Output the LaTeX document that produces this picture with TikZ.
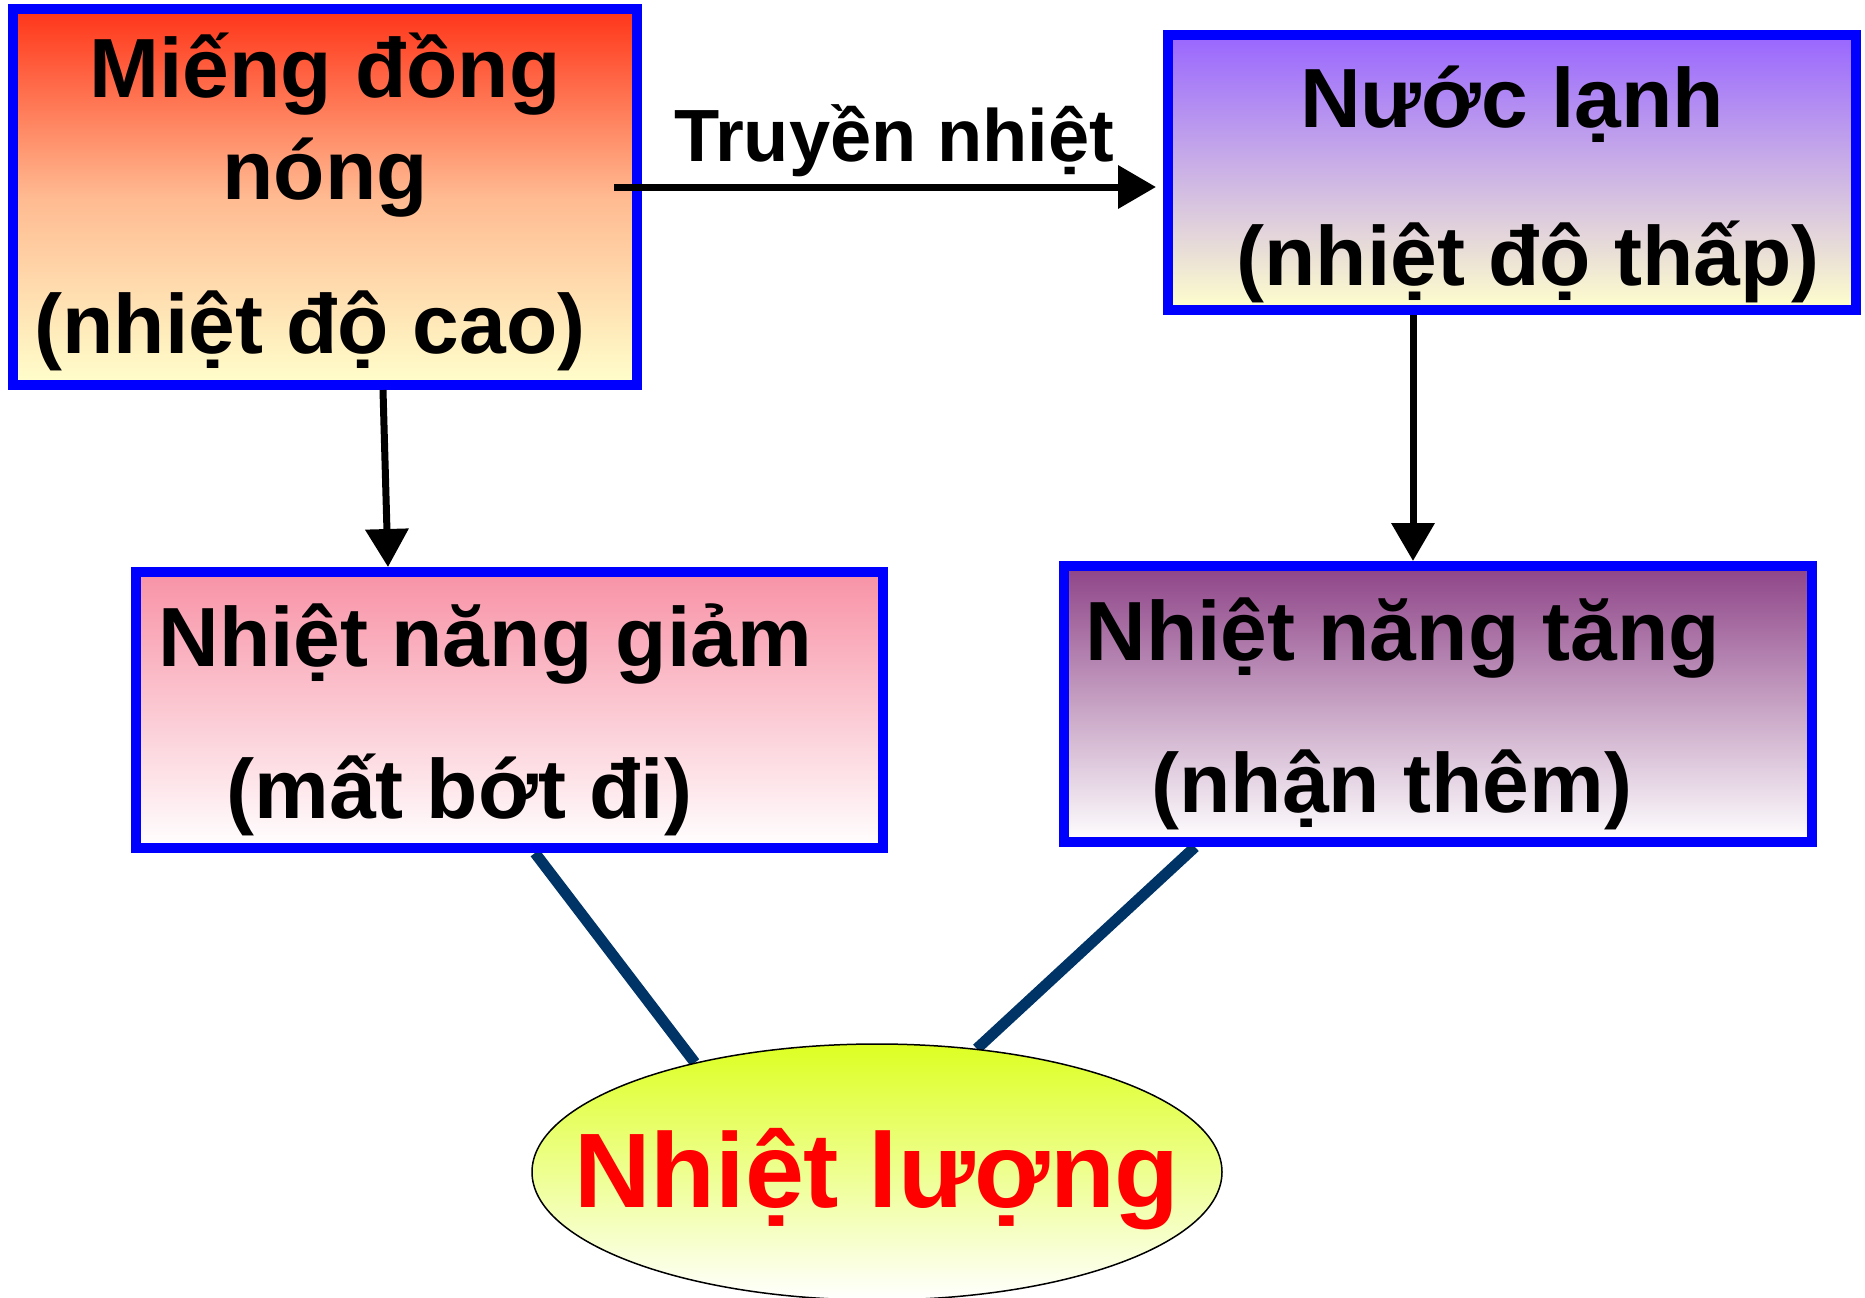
\documentclass[tikz,border=0pt]{standalone}
\usepackage{fontspec}
\setmainfont{Liberation Sans}
\usetikzlibrary{arrows.meta,shapes.geometric}
\definecolor{bblue}{RGB}{0,0,255}
\definecolor{hotred}{RGB}{255,52,24}
\definecolor{peach}{RGB}{255,186,145}
\definecolor{cream}{RGB}{255,255,204}
\definecolor{lilac}{RGB}{153,102,255}
\definecolor{pinkish}{RGB}{248,146,166}
\definecolor{mauve}{RGB}{142,68,136}
\definecolor{lime}{RGB}{221,255,34}
\definecolor{navy}{RGB}{0,51,102}
\pgfdeclarelayer{bg}
\pgfsetlayers{bg,main}
\begin{document}
\begin{tikzpicture}[x=0.5pt,y=-0.5pt,
  box/.style={draw=bblue, line width=5pt, rectangle, inner sep=0pt, shading=axis},
  txt/.style={inner sep=0pt, font=\bfseries\fontsize{42pt}{42pt}\selectfont},
  arr/.style={line width=3.5pt, -{Triangle[length=19pt,width=21pt]}},
  bar/.style={navy, line width=5.5pt}
]
\useasboundingbox (0,0) rectangle (1865,1297);
\clip (0,0) rectangle (1865,1297);

% boxes
\node[box, minimum width=312pt, minimum height=188pt, top color=hotred, bottom color=cream, middle color=peach] (b1) at (325,197) {};
\node[box, minimum width=344pt, minimum height=137.5pt, top color=lilac, bottom color=cream] (b2) at (1512,172.5) {};
\node[box, minimum width=373.5pt, minimum height=138pt, top color=pinkish, bottom color=white] (b3) at (509.5,710) {};
\node[box, minimum width=374pt, minimum height=138pt, top color=mauve, bottom color=white] (b4) at (1438,704) {};

% ellipse
\node[ellipse, draw=black, line width=0.75pt, inner sep=0pt, minimum width=345pt, minimum height=128pt, top color=lime, bottom color=white] (el) at (877,1172) {};

% texts
\node[txt, anchor=base] (t1) at (325,97) {Miếng đồng};
\node[txt, anchor=base] (t2) at (325,199) {nóng};
\node[txt, anchor=base] (t3) at (310,353) {(nhiệt độ cao)};
\node[txt, anchor=base] (t4) at (1512,127) {Nước lạnh};
\node[txt, anchor=base] (t5) at (1528,285) {(nhiệt độ thấp)};
\node[txt, anchor=base west] (t6) at (158,666) {Nhiệt năng giảm};
\node[txt, anchor=base west] (t7) at (226,818) {(mất bớt đi)};
\node[txt, anchor=base west] (t8) at (1085,660) {Nhiệt năng tăng};
\node[txt, anchor=base west] (t9) at (1151,812) {(nhận thêm)};
\node[txt, anchor=base, text=red, font=\bfseries\fontsize{53pt}{53pt}\selectfont] (t10) at (877,1207) {Nhiệt lượng};
\node[txt, anchor=base, font=\bfseries\fontsize{37pt}{37pt}\selectfont] (t11) at (894,161) {Truyền nhiệt};

% arrows
\draw[arr, shorten >=3.5pt] (b1.east |- 614,187) ++(-28,0) -- (b2.west |- 0,187);
\draw[arr] (b1.south -| 383,0) -- (b3.north -| 388,0);
\draw[arr] (b2.south -| 1413,0) -- (b4.north -| 1413,0);

% bars to ellipse
\begin{pgfonlayer}{bg}
\draw[bar] (b3.south -| 535,0) -- (el.149.5);
\draw[bar] (b4.south -| 1195,0) -- (el.51.4);
\end{pgfonlayer}
\end{tikzpicture}
\end{document}
